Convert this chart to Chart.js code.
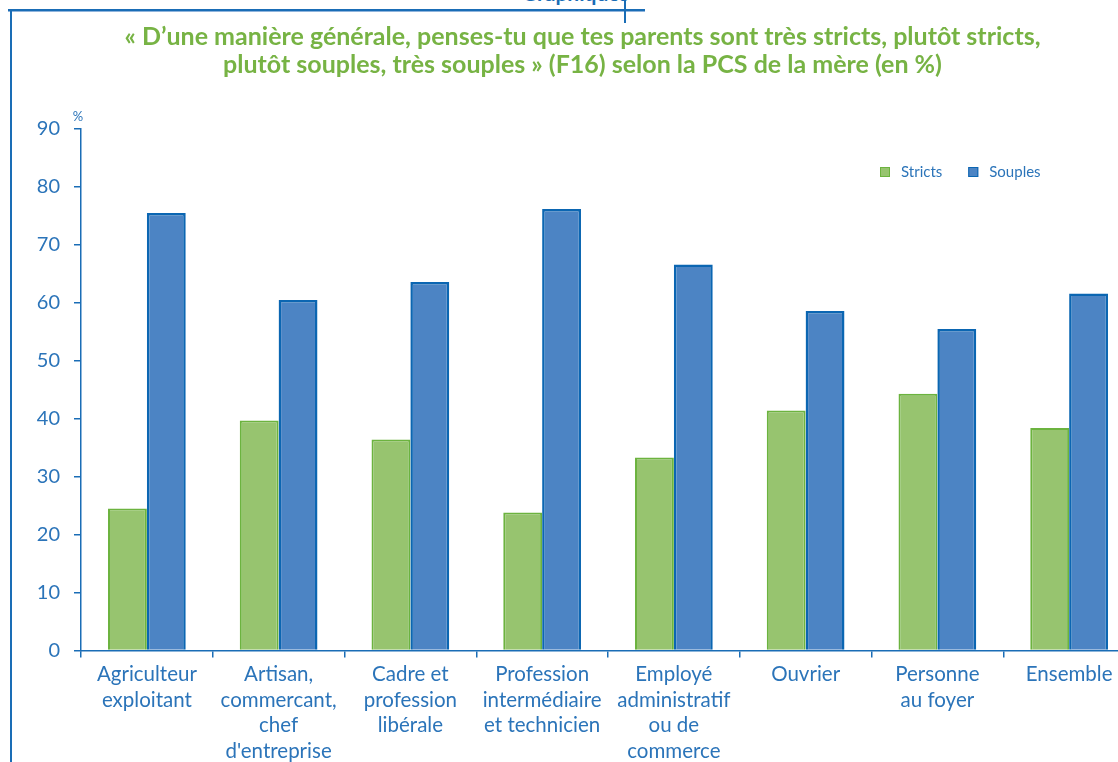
<!DOCTYPE html>
<html>
<head>
<meta charset="utf-8">
<script src="https://cdn.jsdelivr.net/npm/chart.js@4.4.1/dist/chart.umd.min.js"></script>
<style>
  html, body { margin: 0; padding: 0; width: 1118px; height: 762px; overflow: hidden; background: #fff; }
  #wrap { position: absolute; left: 0; top: 0; width: 1135px; height: 768px; }
  .deco { position: absolute; background: #1a6db6; }
  #gtxt { position: absolute; left: 522px; top: -20px; font: bold 21px Lato, sans-serif; color: #1a6db6; white-space: nowrap; }
</style>
</head>
<body>
<div id="gtxt">Graphiques</div>
<div class="deco" style="left:8px;top:9px;width:637px;height:2px;"></div>
<div class="deco" style="left:8px;top:11px;width:637px;height:1px;background:#8fb4dc;"></div>
<div class="deco" style="left:624px;top:0;width:1.5px;height:23px;"></div>
<div class="deco" style="left:10px;top:11px;width:2px;height:760px;"></div>
<div id="wrap"><canvas id="c"></canvas></div>
<script>
const categories = [
  ["Agriculteur", "exploitant"],
  ["Artisan,", "commercant,", "chef", "d'entreprise"],
  ["Cadre et", "profession", "libérale"],
  ["Profession", "intermédiaire", "et technicien"],
  ["Employé", "administratif", "ou de", "commerce"],
  ["Ouvrier"],
  ["Personne", "au foyer"],
  ["Ensemble"]
];
const stricts = [24.5, 39.7, 36.4, 23.8, 33.3, 41.4, 44.3, 38.4];
const souples = [75.5, 60.5, 63.6, 76.2, 66.6, 58.6, 55.5, 61.6];
const titleLines = [
  "« D\u2019une manière générale, penses-tu que tes parents sont très stricts, plutôt stricts,",
  "plutôt souples, très souples » (F16) selon la PCS de la mère (en %)"
];

const blue = '#1a6db6';
const tickColor = '#2b74b9';

const legendPlugin = {
  id: 'customLegend',
  afterDraw(chart) {
    const ctx = chart.ctx;
    ctx.save();
    ctx.font = '15px Lato, sans-serif';
    ctx.textBaseline = 'middle';
    let x = 880;
    const y = 172;
    chart.data.datasets.forEach(ds => {
      ctx.fillStyle = ds.backgroundColor;
      ctx.fillRect(x, y - 5, 10, 10);
      ctx.strokeStyle = ds.borderColor;
      ctx.lineWidth = 1;
      ctx.strokeRect(x + 0.5, y - 4.5, 9, 9);
      ctx.fillStyle = tickColor;
      ctx.fillText(ds.label, x + 21, y);
      x += 21 + ctx.measureText(ds.label).width + 26;
    });
    // % unit label
    ctx.font = '13px Lato, sans-serif';
    ctx.textAlign = 'center';
    ctx.fillStyle = tickColor;
    ctx.fillText('%', chart.chartArea.left - 3, chart.chartArea.top - 12);
    ctx.restore();
  }
};

new Chart(document.getElementById('c'), {
  type: 'bar',
  data: {
    labels: categories,
    datasets: [
      { label: 'Stricts', data: stricts, backgroundColor: '#97c46f', borderColor: '#6cb33f', borderWidth: 2 },
      { label: 'Souples', data: souples, backgroundColor: '#4c84c4', borderColor: '#0b66b2', borderWidth: 2.5 }
    ]
  },
  options: {
    responsive: true,
    maintainAspectRatio: false,
    animation: false,
    layout: { padding: { left: 30, right: 0, top: 23, bottom: 0 } },
    datasets: { bar: { categoryPercentage: 0.59, barPercentage: 1.0 } },
    plugins: {
      legend: { display: false },
      tooltip: { enabled: false },
      title: {
        display: true,
        text: titleLines,
        color: '#77b344',
        font: { family: 'Lato, sans-serif', size: 25, weight: 'bold', lineHeight: 1.12 },
        padding: { top: 0, bottom: 50 }
      }
    },
    scales: {
      x: {
        offset: true,
        border: { color: blue, width: 1.5 },
        grid: { display: true, drawOnChartArea: false, drawTicks: true, tickLength: 7, color: blue, lineWidth: 1.5, offset: true },
        ticks: {
          color: tickColor, autoSkip: false, maxRotation: 0, minRotation: 0, padding: 4,
          font: { family: 'Lato, sans-serif', size: 20.5, lineHeight: 1.25 }
        }
      },
      y: {
        min: 0, max: 90,
        border: { color: blue, width: 1.5 },
        grid: { display: true, drawOnChartArea: false, drawTicks: true, tickLength: 7, color: blue, lineWidth: 1.5 },
        ticks: {
          stepSize: 10, color: tickColor, padding: 14,
          font: { family: 'Lato, sans-serif', size: 20 }
        },
        afterFit(scale) { scale.width = 51; }
      }
    }
  },
  plugins: [legendPlugin]
});
</script>
</body>
</html>
